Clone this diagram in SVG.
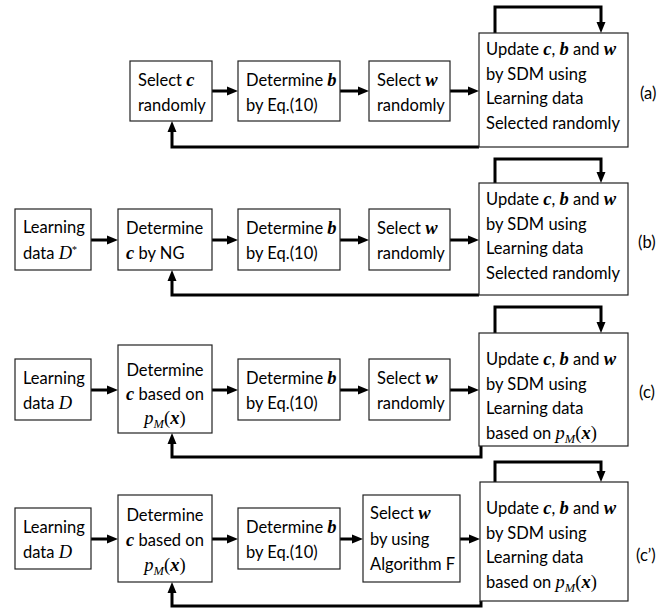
<svg xmlns="http://www.w3.org/2000/svg" width="672" height="609" viewBox="0 0 672 609">
<defs>
<style>
.box{fill:#fff;stroke:#222;stroke-width:1.2}
.t{font-family:Lato,"Liberation Sans",sans-serif;font-size:16.5px;fill:#000}
.mb{font-family:"Liberation Serif",serif;font-weight:bold;font-style:italic;font-size:18.5px}
.mi{font-family:"Liberation Serif",serif;font-style:italic;font-size:18.5px}
.mr{font-family:"Liberation Serif",serif;font-size:18.5px}
.sup{font-family:"Liberation Serif",serif;font-size:10px}
.sub{font-family:"Liberation Serif",serif;font-style:italic;font-size:12.5px}
.c{text-anchor:middle}
.ln{fill:none;stroke:#000;stroke-width:3}
</style>
<marker id="ah" markerUnits="userSpaceOnUse" markerWidth="11" markerHeight="10" viewBox="0 0 11 10" refX="3" refY="5" orient="auto"><path d="M0,0.5 L11,5 L0,9.5 z" fill="#000"/></marker>
</defs>
<rect width="672" height="609" fill="#fff"/>
<g id="connectors">
<line class="ln" x1="212" y1="91" x2="230" y2="91" marker-end="url(#ah)"/>
<line class="ln" x1="340" y1="91" x2="361" y2="91" marker-end="url(#ah)"/>
<line class="ln" x1="450" y1="91" x2="471" y2="91" marker-end="url(#ah)"/>
<path class="ln" d="M495,33 V7 H601 V25" marker-end="url(#ah)"/>
<path class="ln" d="M479,147 H172 V129" marker-end="url(#ah)"/>
<line class="ln" x1="91" y1="240" x2="110" y2="240" marker-end="url(#ah)"/>
<line class="ln" x1="212" y1="240" x2="230" y2="240" marker-end="url(#ah)"/>
<line class="ln" x1="340" y1="240" x2="361" y2="240" marker-end="url(#ah)"/>
<line class="ln" x1="450" y1="240" x2="471" y2="240" marker-end="url(#ah)"/>
<path class="ln" d="M495,183 V159 H601 V175" marker-end="url(#ah)"/>
<path class="ln" d="M479,295 H172 V278" marker-end="url(#ah)"/>
<line class="ln" x1="91" y1="390" x2="110" y2="390" marker-end="url(#ah)"/>
<line class="ln" x1="212" y1="390" x2="230" y2="390" marker-end="url(#ah)"/>
<line class="ln" x1="340" y1="390" x2="361" y2="390" marker-end="url(#ah)"/>
<line class="ln" x1="450" y1="390" x2="471" y2="390" marker-end="url(#ah)"/>
<path class="ln" d="M495,333 V307 H601 V325" marker-end="url(#ah)"/>
<path class="ln" d="M481,446 V457 H172 V441" marker-end="url(#ah)"/>
<line class="ln" x1="91" y1="539" x2="110" y2="539" marker-end="url(#ah)"/>
<line class="ln" x1="212" y1="539" x2="230" y2="539" marker-end="url(#ah)"/>
<line class="ln" x1="340" y1="539" x2="355" y2="539" marker-end="url(#ah)"/>
<line class="ln" x1="460" y1="539" x2="472" y2="539" marker-end="url(#ah)"/>
<path class="ln" d="M495,482 V462 H601 V474" marker-end="url(#ah)"/>
<path class="ln" d="M481,601 V606 H172 V590" marker-end="url(#ah)"/>
</g>
<!-- row a -->
<g id="a1"><rect class="box" x="130" y="61" width="82" height="60"/>
<text class="t" x="138" y="86">Select <tspan class="mb">c</tspan></text>
<text class="t" x="138" y="111">randomly</text></g>
<g id="a2"><rect class="box" x="238" y="61" width="102" height="60"/>
<text class="t" x="246" y="86">Determine <tspan class="mb">b</tspan></text>
<text class="t" x="246" y="111">by Eq.(10)</text></g>
<g id="a3"><rect class="box" x="369" y="61" width="81" height="60"/>
<text class="t" x="377" y="86">Select <tspan class="mb">w</tspan></text>
<text class="t" x="377" y="111">randomly</text></g>
<g id="a4"><rect class="box" x="479" y="33" width="149" height="114"/>
<text class="t" x="486" y="55">Update <tspan class="mb">c</tspan>, <tspan class="mb">b</tspan> and <tspan class="mb">w</tspan></text>
<text class="t" x="486" y="79.5">by SDM using</text>
<text class="t" x="486" y="104">Learning data</text>
<text class="t" x="486" y="128.5">Selected randomly</text></g>
<g id="la"><text class="t" x="640" y="99">(a)</text></g>
<!-- row b -->
<g id="b0"><rect class="box" x="15" y="209" width="76" height="61"/>
<text class="t" x="23" y="233">Learning</text>
<text class="t" x="23" y="259">data <tspan class="mi">D</tspan><tspan class="sup" dy="-6">*</tspan></text></g>
<g id="b1"><rect class="box" x="118" y="209" width="94" height="61"/>
<text class="t" x="126" y="234">Determine</text>
<text class="t" x="126" y="259"><tspan class="mb">c</tspan> by NG</text></g>
<g id="b2"><rect class="box" x="238" y="209" width="102" height="61"/>
<text class="t" x="246" y="234">Determine <tspan class="mb">b</tspan></text>
<text class="t" x="246" y="259">by Eq.(10)</text></g>
<g id="b3"><rect class="box" x="369" y="209" width="81" height="61"/>
<text class="t" x="377" y="234">Select <tspan class="mb">w</tspan></text>
<text class="t" x="377" y="259">randomly</text></g>
<g id="b4"><rect class="box" x="479" y="183" width="149" height="112"/>
<text class="t" x="486" y="205">Update <tspan class="mb">c</tspan>, <tspan class="mb">b</tspan> and <tspan class="mb">w</tspan></text>
<text class="t" x="486" y="229.5">by SDM using</text>
<text class="t" x="486" y="254">Learning data</text>
<text class="t" x="486" y="278.5">Selected randomly</text></g>
<g id="lb"><text class="t" x="638" y="248">(b)</text></g>
<!-- row c -->
<g id="c0"><rect class="box" x="15" y="359" width="76" height="61"/>
<text class="t" x="23" y="384">Learning</text>
<text class="t" x="23" y="409">data <tspan class="mi">D</tspan></text></g>
<g id="c1"><rect class="box" x="118" y="345" width="94" height="88"/>
<text class="t c" x="165" y="376">Determine</text>
<text class="t c" x="165" y="400"><tspan class="mb">c</tspan> based on</text>
<text class="t c" x="165" y="424"><tspan class="mi">p</tspan><tspan class="sub" dy="4">M</tspan><tspan class="mr" dy="-4">(</tspan><tspan class="mb">x</tspan><tspan class="mr">)</tspan></text></g>
<g id="c2"><rect class="box" x="238" y="359" width="102" height="61"/>
<text class="t" x="246" y="384">Determine <tspan class="mb">b</tspan></text>
<text class="t" x="246" y="409">by Eq.(10)</text></g>
<g id="c3"><rect class="box" x="369" y="359" width="81" height="61"/>
<text class="t" x="377" y="384">Select <tspan class="mb">w</tspan></text>
<text class="t" x="377" y="409">randomly</text></g>
<g id="c4"><rect class="box" x="479" y="333" width="149" height="113"/>
<text class="t" x="486" y="365">Update <tspan class="mb">c</tspan>, <tspan class="mb">b</tspan> and <tspan class="mb">w</tspan></text>
<text class="t" x="486" y="389.5">by SDM using</text>
<text class="t" x="486" y="414">Learning data</text>
<text class="t" x="486" y="438.5">based on <tspan class="mi">p</tspan><tspan class="sub" dy="4">M</tspan><tspan class="mr" dy="-4">(</tspan><tspan class="mb">x</tspan><tspan class="mr">)</tspan></text></g>
<g id="lc"><text class="t" x="639" y="398">(c)</text></g>
<!-- row c' -->
<g id="d0"><rect class="box" x="15" y="508" width="76" height="61"/>
<text class="t" x="23" y="533">Learning</text>
<text class="t" x="23" y="558">data <tspan class="mi">D</tspan></text></g>
<g id="d1"><rect class="box" x="118" y="495" width="94" height="87"/>
<text class="t c" x="165" y="521">Determine</text>
<text class="t c" x="165" y="546"><tspan class="mb">c</tspan> based on</text>
<text class="t c" x="165" y="571"><tspan class="mi">p</tspan><tspan class="sub" dy="4">M</tspan><tspan class="mr" dy="-4">(</tspan><tspan class="mb">x</tspan><tspan class="mr">)</tspan></text></g>
<g id="d2"><rect class="box" x="238" y="508" width="102" height="61"/>
<text class="t" x="246" y="533">Determine <tspan class="mb">b</tspan></text>
<text class="t" x="246" y="558">by Eq.(10)</text></g>
<g id="d3"><rect class="box" x="363" y="495" width="97" height="87"/>
<text class="t" x="370" y="519">Select <tspan class="mb">w</tspan></text>
<text class="t" x="370" y="545">by using</text>
<text class="t" x="370" y="570">Algorithm F</text></g>
<g id="d4"><rect class="box" x="480" y="482" width="148" height="119"/>
<text class="t" x="486" y="514">Update <tspan class="mb">c</tspan>, <tspan class="mb">b</tspan> and <tspan class="mb">w</tspan></text>
<text class="t" x="486" y="539">by SDM using</text>
<text class="t" x="486" y="563">Learning data</text>
<text class="t" x="486" y="588">based on <tspan class="mi">p</tspan><tspan class="sub" dy="4">M</tspan><tspan class="mr" dy="-4">(</tspan><tspan class="mb">x</tspan><tspan class="mr">)</tspan></text></g>
<g id="ld"><text class="t" x="636" y="561">(c’)</text></g>
</svg>
